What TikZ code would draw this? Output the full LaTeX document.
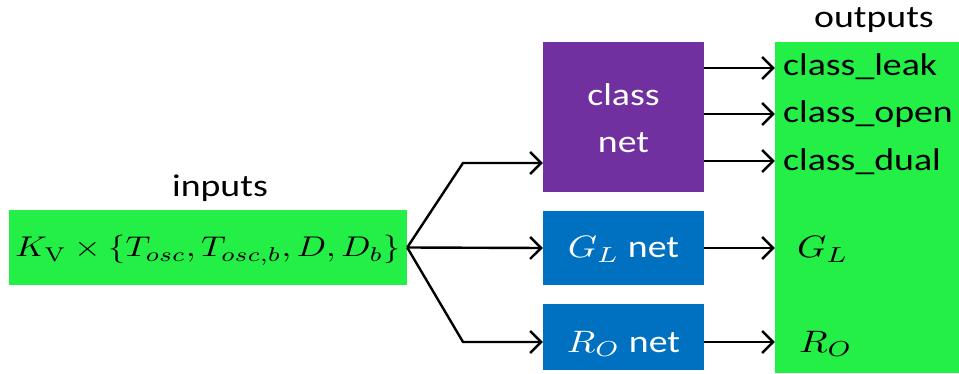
\documentclass[tikz,border=0pt]{standalone}
\usepackage[no-math]{fontspec}
\usepackage{graphicx}
\setmainfont{Carlito}
\usetikzlibrary{arrows.meta}
\definecolor{boxgreen}{HTML}{23EF47}
\definecolor{netpurple}{HTML}{7030A0}
\definecolor{netblue}{HTML}{0070C0}
% text is set a little wider than the font's own proportions
\newcommand{\hwide}[1]{\scalebox{1.2}[1]{#1}}
% formulas are set at 10pt and scaled up, keeping the same widening
\newcommand{\bigmath}[2]{\scalebox{\fpeval{1.2*#1}}[#1]{\fontsize{10}{12}\selectfont$#2$}}
\begin{document}
\begin{tikzpicture}[x=1pt,y=-1pt,
  txt/.style={font=\fontsize{31.5}{36}\selectfont, inner sep=0pt},
  greenbox/.style={fill=boxgreen, draw=none, inner sep=0pt},
  netbox/.style={draw=none, inner sep=0pt, text=white, minimum width=161pt},
  conn/.style={line width=2.4pt, -{Straight Barb[length=11pt,width=22pt,line width=2.4pt]}}]
\useasboundingbox (0,0) rectangle (959,374);
% input and output panels
\node[greenbox, minimum width=398pt, minimum height=75pt] (in) at (208,247.5) {};
\node[inner sep=0pt, anchor=base] (intext) at (208,257) {\bigmath{2.85}{K_{\mathrm{V}}\times\{T_{osc},T_{osc,b},D,D_b\}}};
\node[txt, anchor=base] (inlab) at (220,197) {\hwide{inputs}};
\node[greenbox, minimum width=184pt, minimum height=331pt] (out) at (867,207.5) {};
\node[txt, anchor=base] (outlab) at (874,28) {\hwide{outputs}};
% the three networks
\node[netbox, fill=netpurple, minimum height=150pt] (cls) at (623.5,117) {};
\node[txt, text=white, anchor=base] (clsa) at (623.5,106) {\hwide{class}};
\node[txt, text=white, anchor=base] (clsb) at (623.5,153) {\hwide{net}};
\node[netbox, fill=netblue, minimum height=74pt] (gl) at (623.5,248) {};
\node[txt, text=white, anchor=base] (gltext) at (623.5,258) {\bigmath{3.1}{G_L}\hwide{ net}};
\node[netbox, fill=netblue, minimum height=66pt] (ro) at (623.5,337) {};
\node[txt, text=white, anchor=base] (rotext) at (623.5,352) {\bigmath{3.1}{R_O}\hwide{ net}};
% output labels
\node[txt, anchor=base west] (o1) at (783,76) {\hwide{class\_leak}};
\node[txt, anchor=base west] (o2) at (783,123) {\hwide{class\_open}};
\node[txt, anchor=base west] (o3) at (783,171) {\hwide{class\_dual}};
\node[inner sep=0pt, anchor=base west] (o4) at (797,258) {\bigmath{3.1}{G_L}};
\node[inner sep=0pt, anchor=base west] (o5) at (799,352) {\bigmath{3.1}{R_O}};
% fork from the input
\coordinate (bu) at (463,163);
\coordinate (bd) at (463,342);
\draw[conn] (in.east) -- (bu) -- (bu -| cls.west);
\draw[conn] (in.east) -- (gl.west);
\draw[conn] (in.east) -- (bd) -- (bd -| ro.west);
% outputs of the networks
\draw[conn] (cls.east |- 0,68) -- (out.west |- 0,68);
\draw[conn] (cls.east |- 0,114) -- (out.west |- 0,114);
\draw[conn] (cls.east |- 0,161) -- (out.west |- 0,161);
\draw[conn] (gl.east) -- (out.west |- gl.east);
\draw[conn] (ro.east |- bd) -- (out.west |- bd);
\end{tikzpicture}
\end{document}
